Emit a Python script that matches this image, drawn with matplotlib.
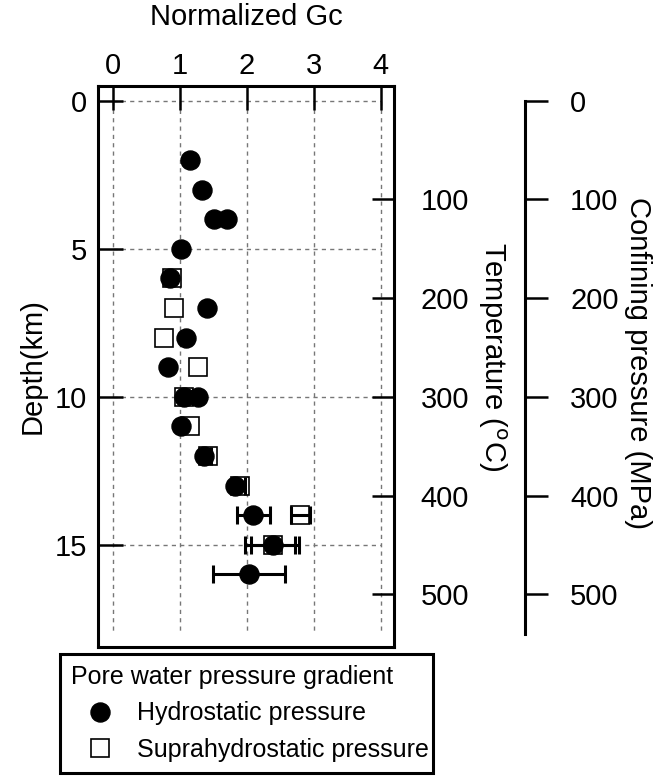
import numpy as np
import matplotlib
matplotlib.use("Agg")
import matplotlib.pyplot as plt
from matplotlib.lines import Line2D

plt.rcParams["font.family"] = ["Liberation Sans", "DejaVu Sans"]
plt.rcParams["font.size"] = 21

# Hydrostatic pressure (filled circles)
HYDRO_DEPTH = [2, 3, 4, 4, 5, 6, 7, 8, 9, 10, 10, 11, 12, 13, 14, 15, 16]
HYDRO_GC = [1.16, 1.33, 1.51, 1.71, 1.02, 0.86, 1.41, 1.10, 0.82, 1.07, 1.28,
            1.02, 1.37, 1.82, 2.10, 2.40, 2.03]
HYDRO_ERR_LO = [0, 0, 0, 0, 0, 0, 0, 0, 0, 0, 0, 0, 0, 0, 0.25, 0.43, 0.54]
HYDRO_ERR_HI = [0, 0, 0, 0, 0, 0, 0, 0, 0, 0, 0, 0, 0, 0, 0.25, 0.38, 0.54]

# Suprahydrostatic pressure (open squares)
SUPRA_DEPTH = [6, 7, 8, 9, 10, 11, 12, 13, 14, 15]
SUPRA_GC = [0.88, 0.92, 0.76, 1.27, 1.07, 1.15, 1.43, 1.90, 2.80, 2.39]
SUPRA_ERR = [0, 0, 0, 0, 0, 0, 0.04, 0.08, 0.14, 0.33]

GC_TICKS = [0, 1, 2, 3, 4]
DEPTH_TICKS = [0, 5, 10, 15]
TEMP_TICKS = [100, 200, 300, 400, 500]
PRES_TICKS = [0, 100, 200, 300, 400, 500]
TEMP_GRAD = 30.0   # degC per km
PRES_GRAD = 30.0   # MPa per km

W, H = 668, 776
fig = plt.figure(figsize=(W / 100, H / 100), dpi=100)

left, right, top, bottom = 98 / W, 394 / W, 1 - 86 / H, 1 - 647 / H
ax = fig.add_axes([left, bottom, right - left, top - bottom])
ax.set_xlim(-0.22, 4.2)
ax.set_ylim(18.45, -0.5)

# grid limited to the data box
for d in DEPTH_TICKS:
    ax.plot([0, 4], [d, d], color="#777777", lw=1, ls=(0, (3, 3)), zorder=1)
for g in GC_TICKS:
    ax.plot([g, g], [0, 18], color="#777777", lw=1, ls=(0, (3, 3)), zorder=1)

ax.plot(SUPRA_GC, SUPRA_DEPTH, "s", ms=13.5, mfc="white", mec="black",
        mew=1.2, zorder=3, label="Suprahydrostatic pressure")
ax.plot(HYDRO_GC, HYDRO_DEPTH, "o", ms=13.7, color="black", zorder=4,
        label="Hydrostatic pressure")

se = np.array(SUPRA_ERR)
m = se > 0
ax.errorbar(np.array(SUPRA_GC)[m], np.array(SUPRA_DEPTH)[m], xerr=se[m],
            fmt="none", ecolor="black", elinewidth=2.2, capsize=6.5,
            capthick=2.2, zorder=3.5)
lo, hi = np.array(HYDRO_ERR_LO), np.array(HYDRO_ERR_HI)
m = (lo + hi) > 0
ax.errorbar(np.array(HYDRO_GC)[m], np.array(HYDRO_DEPTH)[m],
            xerr=[lo[m], hi[m]], fmt="none", ecolor="black", elinewidth=2.2,
            capsize=6.5, capthick=2.2, zorder=4.5)

for s in ax.spines.values():
    s.set_linewidth(2.2)
ax.xaxis.tick_top()
ax.xaxis.set_label_position("top")
ax.set_xticks(GC_TICKS)
ax.set_yticks(DEPTH_TICKS)
ax.tick_params(axis="x", direction="in", length=17, width=1.8, pad=4,
               labelsize=21)
ax.tick_params(axis="y", direction="in", length=18, width=1.8, pad=8,
               labelsize=21)
ax.set_xlabel("Normalized Gc", fontsize=21, labelpad=20)
ax.set_ylabel("Depth(km)", fontsize=21, labelpad=6)

# temperature axis on the right of the main box
ax2 = ax.twinx()
y0, y1 = ax.get_ylim()
ax2.set_ylim(y0 * TEMP_GRAD, y1 * TEMP_GRAD)
ax2.set_yticks(TEMP_TICKS)
ax2.tick_params(axis="y", direction="in", length=16, width=1.8, pad=19,
                labelsize=21)
for s in ax2.spines.values():
    s.set_visible(False)
fig.text(492 / W, 1 - 357 / H, "Temperature ($^{\\mathrm{o}}$C)", rotation=270,
         ha="center", va="center", fontsize=21)

# confining pressure axis, detached
ax3 = fig.add_axes([525 / W, bottom, 0.0001, top - bottom])
ax3.set_ylim(y0 * PRES_GRAD, y1 * PRES_GRAD)
ax3.patch.set_visible(False)
for k in ["left", "top", "bottom"]:
    ax3.spines[k].set_visible(False)
ax3.spines["right"].set_linewidth(2.2)
ax3.spines["right"].set_bounds(0, 18 * PRES_GRAD)
ax3.set_xticks([])
ax3.yaxis.tick_right()
ax3.set_yticks(PRES_TICKS)
ax3.tick_params(axis="y", direction="out", length=16.5, width=1.8, pad=16,
                labelsize=21)
fig.text(638 / W, 1 - 363 / H, "Confining pressure (MPa)", rotation=270,
         ha="center", va="center", fontsize=21)

handles = [
    Line2D([], [], ls="none", marker="o", ms=13.7, color="black"),
    Line2D([], [], ls="none", marker="s", ms=13.5, mfc="white", mec="black",
           mew=1.2),
]
leg = fig.legend(handles, ["Hydrostatic pressure", "Suprahydrostatic pressure"],
                 title="Pore water pressure gradient", loc="lower left",
                 bbox_to_anchor=(60 / W, 3 / H, 373 / W, 118 / H),
                 mode="expand", fontsize=18, title_fontsize=18,
                 alignment="left", fancybox=False, framealpha=1,
                 edgecolor="black", handlelength=2.3, handletextpad=0.33,
                 borderpad=0.45, labelspacing=0.5, borderaxespad=0)
leg.get_frame().set_linewidth(2.2)

fig.savefig("out.png", dpi=100)
